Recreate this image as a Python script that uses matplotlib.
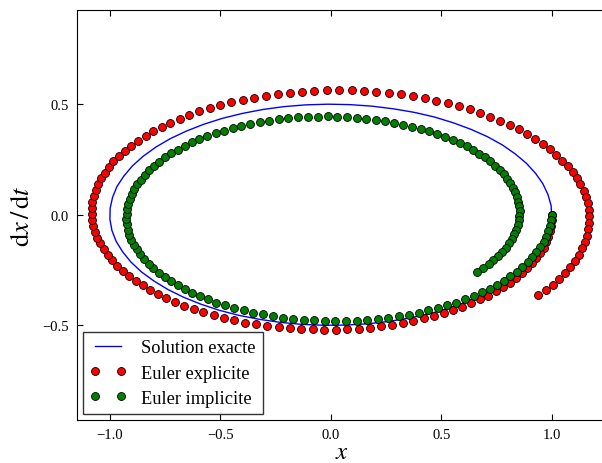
import matplotlib
matplotlib.use("Agg")
import matplotlib.pyplot as plt

# Portrait de phase de l'oscillateur harmonique (pas dt = 0.1)
labels = ['Solution exacte', 'Euler explicite', 'Euler implicite']

x_exacte = [
    1.000, 0.995, 0.980, 0.955, 0.921, 0.878, 0.825, 0.765, 0.697, 0.622,
    0.540, 0.454, 0.362, 0.267, 0.170, 0.071, -0.029, -0.129, -0.227, -0.323,
    -0.416, -0.505, -0.589, -0.666, -0.737, -0.801, -0.857, -0.904, -0.942, -0.971,
    -0.990, -0.999, -0.998, -0.987, -0.967, -0.936, -0.897, -0.848, -0.791, -0.726,
    -0.654, -0.575, -0.490, -0.401, -0.307, -0.211, -0.112, -0.012, 0.087, 0.187,
    0.284, 0.378, 0.469, 0.554, 0.635, 0.709, 0.776, 0.835, 0.886, 0.927,
    0.960, 0.983, 0.997, 1.000, 0.993, 0.977, 0.950, 0.914, 0.869, 0.816,
]
v_exacte = [
    0.000, -0.050, -0.099, -0.148, -0.195, -0.240, -0.282, -0.322, -0.359, -0.392,
    -0.421, -0.446, -0.466, -0.482, -0.493, -0.499, -0.500, -0.496, -0.487, -0.473,
    -0.455, -0.432, -0.404, -0.373, -0.338, -0.299, -0.258, -0.214, -0.167, -0.120,
    -0.071, -0.021, 0.029, 0.079, 0.128, 0.175, 0.221, 0.265, 0.306, 0.344,
    0.378, 0.409, 0.436, 0.458, 0.476, 0.489, 0.497, 0.500, 0.498, 0.491,
    0.479, 0.463, 0.442, 0.416, 0.386, 0.353, 0.316, 0.275, 0.232, 0.187,
    0.140, 0.091, 0.042, -0.008, -0.058, -0.108, -0.156, -0.202, -0.247, -0.289,
]

x_explicite = [
    1.000, 1.000, 0.998, 0.992, 0.985, 0.975, 0.963, 0.948, 0.930, 0.911,
    0.889, 0.865, 0.838, 0.809, 0.779, 0.746, 0.711, 0.675, 0.636, 0.596,
    0.555, 0.512, 0.467, 0.421, 0.374, 0.326, 0.277, 0.228, 0.177, 0.126,
    0.075, 0.023, -0.029, -0.081, -0.133, -0.185, -0.236, -0.287, -0.337, -0.387,
    -0.436, -0.484, -0.530, -0.576, -0.620, -0.663, -0.704, -0.744, -0.781, -0.817,
    -0.851, -0.883, -0.913, -0.941, -0.966, -0.989, -1.010, -1.028, -1.043, -1.056,
    -1.067, -1.074, -1.079, -1.082, -1.081, -1.078, -1.073, -1.064, -1.053, -1.039,
    -1.023, -1.004, -0.983, -0.958, -0.932, -0.903, -0.872, -0.838, -0.803, -0.765,
    -0.725, -0.683, -0.640, -0.595, -0.548, -0.500, -0.450, -0.399, -0.347, -0.294,
    -0.240, -0.185, -0.130, -0.074, -0.018, 0.038, 0.094, 0.150, 0.206, 0.262,
    0.317, 0.371, 0.425, 0.478, 0.529, 0.580, 0.629, 0.676, 0.722, 0.767,
    0.809, 0.850, 0.889, 0.925, 0.959, 0.991, 1.021, 1.048, 1.073, 1.094,
    1.114, 1.130, 1.144, 1.155, 1.163, 1.168, 1.170, 1.170, 1.166, 1.159,
    1.150, 1.138, 1.122, 1.104, 1.084, 1.060, 1.034, 1.005, 0.973, 0.939,
]
v_explicite = [
    0.000, -0.025, -0.050, -0.075, -0.100, -0.124, -0.149, -0.173, -0.197, -0.220,
    -0.243, -0.265, -0.286, -0.307, -0.328, -0.347, -0.366, -0.383, -0.400, -0.416,
    -0.431, -0.445, -0.458, -0.469, -0.480, -0.489, -0.498, -0.504, -0.510, -0.515,
    -0.518, -0.520, -0.520, -0.519, -0.517, -0.514, -0.509, -0.504, -0.496, -0.488,
    -0.478, -0.467, -0.455, -0.442, -0.428, -0.412, -0.396, -0.378, -0.359, -0.340,
    -0.319, -0.298, -0.276, -0.253, -0.230, -0.206, -0.181, -0.156, -0.130, -0.104,
    -0.077, -0.051, -0.024, 0.003, 0.030, 0.057, 0.084, 0.111, 0.138, 0.164,
    0.190, 0.215, 0.241, 0.265, 0.289, 0.312, 0.335, 0.357, 0.378, 0.398,
    0.417, 0.435, 0.452, 0.468, 0.483, 0.497, 0.509, 0.520, 0.530, 0.539,
    0.546, 0.552, 0.557, 0.560, 0.562, 0.563, 0.562, 0.559, 0.556, 0.550,
    0.544, 0.536, 0.527, 0.516, 0.504, 0.491, 0.476, 0.461, 0.444, 0.426,
    0.407, 0.386, 0.365, 0.343, 0.320, 0.296, 0.271, 0.245, 0.219, 0.192,
    0.165, 0.137, 0.109, 0.080, 0.052, 0.022, -0.007, -0.036, -0.065, -0.094,
    -0.123, -0.152, -0.181, -0.209, -0.236, -0.263, -0.290, -0.316, -0.341, -0.365,
]

x_implicite = [
    1.000, 0.998, 0.993, 0.985, 0.975, 0.963, 0.948, 0.931, 0.912, 0.891,
    0.867, 0.841, 0.813, 0.784, 0.752, 0.719, 0.683, 0.647, 0.608, 0.569,
    0.528, 0.485, 0.442, 0.398, 0.353, 0.307, 0.260, 0.213, 0.165, 0.117,
    0.069, 0.021, -0.027, -0.075, -0.122, -0.169, -0.216, -0.262, -0.307, -0.351,
    -0.394, -0.437, -0.478, -0.517, -0.556, -0.592, -0.628, -0.661, -0.693, -0.723,
    -0.751, -0.778, -0.802, -0.824, -0.844, -0.862, -0.878, -0.891, -0.903, -0.912,
    -0.918, -0.923, -0.925, -0.924, -0.922, -0.917, -0.910, -0.900, -0.889, -0.875,
    -0.859, -0.841, -0.821, -0.799, -0.775, -0.749, -0.721, -0.692, -0.661, -0.628,
    -0.594, -0.558, -0.521, -0.483, -0.444, -0.404, -0.363, -0.321, -0.278, -0.235,
    -0.192, -0.148, -0.103, -0.059, -0.014, 0.030, 0.074, 0.118, 0.161, 0.204,
    0.247, 0.288, 0.329, 0.369, 0.408, 0.446, 0.482, 0.518, 0.552, 0.584,
    0.615, 0.644, 0.672, 0.698, 0.722, 0.744, 0.764, 0.783, 0.799, 0.813,
    0.825, 0.836, 0.844, 0.849, 0.853, 0.855, 0.854, 0.852, 0.847, 0.840,
    0.831, 0.820, 0.807, 0.792, 0.775, 0.757, 0.736, 0.714, 0.689, 0.664,
]
v_implicite = [
    0.000, -0.025, -0.050, -0.074, -0.099, -0.123, -0.147, -0.170, -0.193, -0.215,
    -0.237, -0.258, -0.278, -0.298, -0.316, -0.334, -0.351, -0.368, -0.383, -0.397,
    -0.410, -0.422, -0.433, -0.443, -0.452, -0.460, -0.466, -0.472, -0.476, -0.479,
    -0.480, -0.481, -0.480, -0.478, -0.475, -0.471, -0.466, -0.459, -0.451, -0.443,
    -0.433, -0.422, -0.410, -0.397, -0.383, -0.368, -0.353, -0.336, -0.319, -0.301,
    -0.282, -0.262, -0.242, -0.222, -0.201, -0.179, -0.157, -0.135, -0.112, -0.090,
    -0.067, -0.044, -0.020, 0.003, 0.026, 0.049, 0.071, 0.094, 0.116, 0.138,
    0.159, 0.180, 0.201, 0.221, 0.240, 0.259, 0.277, 0.294, 0.311, 0.327,
    0.341, 0.355, 0.368, 0.381, 0.392, 0.402, 0.411, 0.419, 0.426, 0.432,
    0.436, 0.440, 0.443, 0.444, 0.445, 0.444, 0.442, 0.439, 0.435, 0.430,
    0.424, 0.416, 0.408, 0.399, 0.389, 0.378, 0.366, 0.353, 0.339, 0.324,
    0.309, 0.293, 0.276, 0.259, 0.241, 0.222, 0.203, 0.183, 0.163, 0.143,
    0.122, 0.101, 0.080, 0.059, 0.038, 0.016, -0.005, -0.026, -0.047, -0.068,
    -0.089, -0.110, -0.130, -0.150, -0.169, -0.188, -0.206, -0.224, -0.241, -0.258,
]

x_ticks = [-1.0, -0.5, 0.0, 0.5, 1.0]
y_ticks = [-0.5, 0.0, 0.5]

plt.rcParams['font.family'] = ['Liberation Serif', 'DejaVu Serif']
plt.rcParams['mathtext.fontset'] = 'stix'

fig = plt.figure(figsize=(6.02, 4.64), dpi=100)
# l'axe depasse a droite, comme sur l'original recadre
ax = fig.add_axes([77/602, 43.3/464, 530/602, 409.7/464])

ax.plot(x_exacte, v_exacte, 'b-', lw=1, label=labels[0])
ax.plot(x_explicite, v_explicite, 'o', color='r', mec='k', mew=0.6, ms=5.7, label=labels[1])
ax.plot(x_implicite, v_implicite, 'o', color=(0, 0.5, 0), mec='k', mew=0.6, ms=5.7, label=labels[2])

ax.set_xlim(-1.148, 1.25)
ax.set_ylim(-0.927, 0.926)
ax.set_xticks(x_ticks)
ax.set_yticks(y_ticks)
ax.tick_params(direction='in', top=True, right=False, labelsize=10.5, length=4, pad=6)
ax.set_xlabel(r'$x$', fontsize=18, labelpad=0)
ax.set_ylabel(r'$\mathrm{d}x\,/\,\mathrm{d}t$', fontsize=19, labelpad=6)
ax.legend(loc='lower left', numpoints=2, fontsize=13.2, fancybox=False, edgecolor='k',
          borderaxespad=0.3, labelspacing=0.45)

fig.savefig('out.png', dpi=100)
